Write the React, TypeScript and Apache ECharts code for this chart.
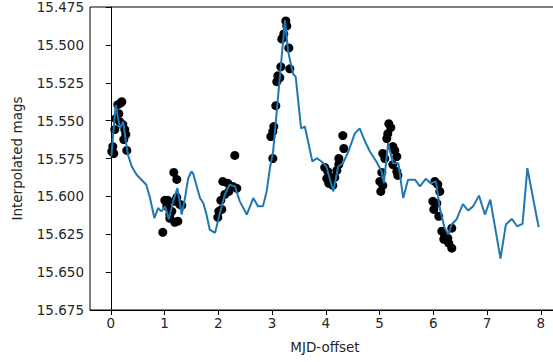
import React, { useEffect, useRef } from "react";
import * as echarts from "echarts";

// Interpolated light curve (blue line)
const lineX = [0.01,0.09,0.17,0.23,0.29,0.32,0.39,0.48,0.57,0.66,0.73,0.81,0.88,0.94,1.01,1.08,1.16,1.24,1.32,1.38,1.44,1.50,1.53,1.59,1.66,1.72,1.78,1.84,1.94,2.03,2.12,2.21,2.31,2.40,2.53,2.65,2.74,2.83,2.90,2.96,3.02,3.24,3.30,3.39,3.44,3.54,3.61,3.67,3.75,3.83,3.92,4.01,4.14,4.23,4.32,4.42,4.54,4.63,4.73,4.82,4.94,5.04,5.08,5.16,5.25,5.35,5.44,5.53,5.66,5.75,5.86,5.95,6.05,6.12,6.21,6.28,6.34,6.43,6.55,6.65,6.74,6.85,6.96,7.06,7.25,7.35,7.46,7.56,7.66,7.75,7.96];
const lineY = [15.5737,15.5397,15.5551,15.5507,15.566,15.5726,15.5803,15.5857,15.589,15.5923,15.6011,15.6143,15.6077,15.6099,15.6066,15.6151,15.6033,15.5945,15.612,15.6011,15.588,15.5836,15.5847,15.5923,15.6011,15.6044,15.612,15.6219,15.6241,15.611,15.5989,15.5923,15.5934,15.6033,15.612,15.6011,15.6066,15.6066,15.5967,15.5814,15.5704,15.4838,15.5046,15.5189,15.5211,15.5551,15.5539,15.5638,15.577,15.5748,15.577,15.5803,15.5967,15.5803,15.5781,15.5704,15.5584,15.5551,15.5638,15.5704,15.577,15.5836,15.5913,15.5649,15.5781,15.5781,15.6011,15.589,15.589,15.5934,15.5884,15.5913,15.5901,15.6077,15.6209,15.6252,15.6186,15.6153,15.6051,15.6094,15.6066,15.5995,15.612,15.6022,15.641,15.6186,15.6149,15.6197,15.6182,15.5814,15.6204];

// Observed points (black dots)
const obsX = [
  0.186,0.130,0.093,0.167,0.223,0.074,0.260,0.279,0.037,0.019,0.056,0.298,0.205,0.149,0.242,
  1.172,1.228,1.005,1.060,1.135,1.191,1.284,1.321,1.098,1.191,1.247,0.967,1.098,1.228,1.042,
  2.307,2.084,2.177,2.270,2.344,2.047,2.121,2.195,2.009,1.991,2.065,
  3.256,3.274,3.219,3.181,3.312,3.163,3.330,3.107,3.088,3.144,3.070,3.033,3.014,2.977,3.014,
  4.316,4.335,4.242,3.981,4.037,4.093,4.019,4.056,4.167,4.205,4.130,4.242,
  5.172,5.209,5.153,5.135,5.247,5.284,5.060,5.098,5.321,5.247,5.321,5.340,5.042,5.005,5.060,5.023,
  6.028,6.084,6.121,5.991,6.065,6.009,6.102,6.158,6.214,6.195,6.270,6.344,6.344,6.288
];
const obsY = [
  15.5382,15.5395,15.5487,15.5507,15.5526,15.5559,15.5559,15.5592,15.5671,15.5704,15.5717,15.5697,15.5375,15.5454,15.5625,
  15.5842,15.5888,15.6026,15.6026,15.6099,15.6033,15.6053,15.6059,15.6145,15.6171,15.6164,15.6237,15.6118,15.6007,15.6066,
  15.573,15.5901,15.5914,15.5934,15.5947,15.6026,15.5987,15.5967,15.6099,15.6138,15.6086,
  15.4842,15.4875,15.4928,15.4961,15.502,15.5145,15.5158,15.5204,15.5243,15.5217,15.5401,15.5539,15.5572,15.5605,15.575,
  15.5599,15.5684,15.575,15.5809,15.5836,15.5875,15.5882,15.5914,15.5875,15.5829,15.5928,15.5789,
  15.552,15.5546,15.5586,15.5618,15.5671,15.5697,15.5717,15.575,15.5737,15.579,15.5836,15.5862,15.5842,15.5901,15.5928,15.5967,
  15.5901,15.5921,15.5967,15.6033,15.6046,15.6086,15.6132,15.623,15.6263,15.6283,15.6276,15.621,15.6342,15.6309
];

const xTicks = [0, 1, 2, 3, 4, 5, 6, 7, 8];
const yTicks = [15.475, 15.5, 15.525, 15.55, 15.575, 15.6, 15.625, 15.65, 15.675];

const FONT = "DejaVu Sans";
const TXT = "#262626";

export default function App() {
  const ref = useRef<HTMLDivElement>(null);
  useEffect(() => {
    if (!ref.current) return;
    const chart = echarts.init(ref.current, undefined, { renderer: "svg" });
    chart.setOption({
      animation: false,
      grid: {
        left: 90,
        right: 0,
        top: 5,
        bottom: 52,
        show: true,
        borderColor: "#000",
        borderWidth: 1,
        backgroundColor: "transparent",
      },
      xAxis: {
        type: "value",
        min: -0.387,
        max: 8.357,
        name: "MJD-offset",
        nameLocation: "middle",
        nameGap: 30,
        nameTextStyle: { fontFamily: FONT, fontSize: 13.5, color: TXT },
        axisLine: { show: true, lineStyle: { color: "#000", width: 1 } },
        axisTick: { show: true, length: 5, lineStyle: { color: "#000" }, customValues: xTicks },
        axisLabel: { fontFamily: FONT, fontSize: 13.5, color: TXT, margin: 6, customValues: xTicks, formatter: (v: number) => String(v) },
        splitLine: { show: false },
      },
      yAxis: {
        type: "value",
        inverse: true,
        min: 15.475,
        max: 15.675,
        name: "Interpolated mags",
        nameLocation: "middle",
        nameRotate: 90,
        nameGap: 66,
        nameTextStyle: { fontFamily: FONT, fontSize: 13.5, color: TXT },
        axisLine: { show: true, lineStyle: { color: "#000", width: 1 } },
        axisTick: { show: true, length: 5, lineStyle: { color: "#000" }, customValues: yTicks },
        axisLabel: { fontFamily: FONT, fontSize: 13.5, color: TXT, margin: 6, customValues: yTicks, formatter: (v: number) => v.toFixed(3) },
        splitLine: { show: false },
      },
      series: [
        {
          type: "scatter",
          data: obsX.map((x, i) => [x, obsY[i]]),
          symbol: "circle",
          symbolSize: 9,
          itemStyle: { color: "#000", opacity: 1 },
          z: 2,
        },
        {
          type: "line",
          data: lineX.map((x, i) => [x, lineY[i]]),
          showSymbol: false,
          symbol: "none",
          lineStyle: { color: "#1f77b4", width: 2 },
          z: 3,
        },
      ],
    });
    return () => chart.dispose();
  }, []);
  return (
    <div style={{ position: "absolute", left: 0, top: 0, width: 553, height: 362, overflow: "hidden" }}>
      <div ref={ref} style={{ width: 560, height: 362 }} />
    </div>
  );
}
